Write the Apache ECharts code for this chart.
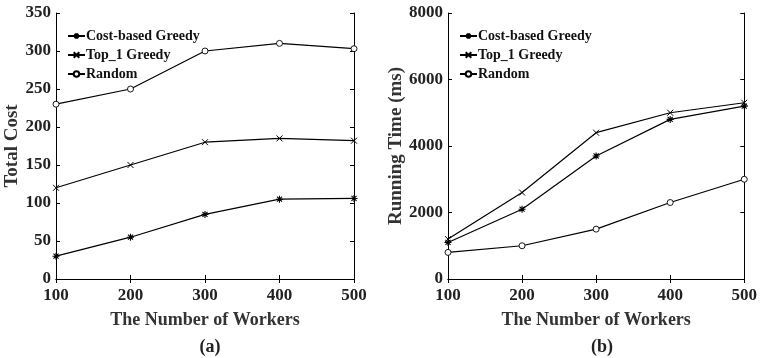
<!DOCTYPE html>
<html><head><meta charset="utf-8">
<script src="https://cdn.jsdelivr.net/npm/echarts@6/dist/echarts.min.js"></script>
<style>html,body{margin:0;padding:0;background:#fff}#c{width:760px;height:358px}</style>
</head><body><div id="c"></div>
<script>
var workers = [100, 200, 300, 400, 500];
var seriesNames = ['Cost-based Greedy', 'Top_1 Greedy', 'Random'];
var costGreedyA = [30, 55, 85, 105, 106];
var top1GreedyA = [120, 150, 180, 185, 182];
var randomA = [230, 250, 300, 310, 303];
var costGreedyB = [1100, 2100, 3700, 4800, 5200];
var top1GreedyB = [1200, 2600, 4400, 5000, 5300];
var randomB = [800, 1000, 1500, 2300, 3000];

var FONT = '"Liberation Serif","Times New Roman",serif';
var symAst = 'path://M0,-5L0,5M-5,0L5,0M-3.6,-3.6L3.6,3.6M-3.6,3.6L3.6,-3.6';
var symX = 'path://M-5,-5L5,5M-5,5L5,-5';
var symCirc = 'path://M5,0A5,5 0 1 1 -5,0A5,5 0 1 1 5,0Z';
var symbols = [symAst, symX, symCirc];
var sizes = [7, 6, 6];
var borders = [1.1, 1.0, 0.9];
var fills = ['#000', '#000', '#fff'];

function pairs(v){ return v.map(function(y,i){ return [workers[i], y]; }); }

var axLine = {show:true, lineStyle:{color:'#000', width:1}};
function xAx(gi, pos, labels){
  return {type:'value', gridIndex:gi, position:pos, min:100, max:500, interval:100,
    axisLine:axLine, axisTick:{show:true, inside:true, length:4, lineStyle:{color:'#000'}},
    axisLabel:{show:labels, color:'#222', fontFamily:FONT, fontWeight:'bold', fontSize:17, margin:8},
    splitLine:{show:false},
    name: labels ? 'The Number of Workers' : '', nameLocation:'middle', nameGap:32,
    nameTextStyle:{color:'#333', fontFamily:FONT, fontWeight:'bold', fontSize:18}};
}
function yAx(gi, pos, labels, max, interval, name){
  return {type:'value', gridIndex:gi, position:pos, min:0, max:max, interval:interval,
    axisLine:axLine, axisTick:{show:true, inside:true, length:4, lineStyle:{color:'#000'}},
    axisLabel:{show:labels, color:'#222', fontFamily:FONT, fontWeight:'bold', fontSize:17, margin:5,
      formatter:function(v){ return String(v); }},
    splitLine:{show:false},
    name: labels ? name : '', nameLocation:'middle', nameGap: max>1000 ? 42 : 28,
    nameTextStyle:{color:'#333', fontFamily:FONT, fontWeight:'bold', fontSize:19}};
}
function mkSeries(data, idx, xi, yi){
  return {name:seriesNames[idx], type:'line', xAxisIndex:xi, yAxisIndex:yi, data:pairs(data),
    symbol:symbols[idx], symbolSize:sizes[idx], showSymbol:true,
    lineStyle:{color:'#000', width:1.2},
    itemStyle:{color:fills[idx], borderColor:'#000', borderWidth:borders[idx]},
    emphasis:{disabled:true}, animation:false};
}
function legend(left){
  return {orient:'vertical', left:left, top:24, itemWidth:17, itemHeight:7, itemGap:5,
    data:seriesNames, textStyle:{color:'#111', fontFamily:FONT, fontWeight:'bold', fontSize:14, padding:[0,0,0,-4]}};
}

var chart = echarts.init(document.getElementById('c'), null, {renderer:'canvas'});
chart.setOption({
  backgroundColor:'#fff',
  animation:false,
  title:[
    {text:'(a)', left:205, top:333, textAlign:'center', textStyle:{fontFamily:FONT, fontWeight:'bold', fontSize:18, color:'#222'}},
    {text:'(b)', left:597, top:333, textAlign:'center', textStyle:{fontFamily:FONT, fontWeight:'bold', fontSize:18, color:'#222'}}
  ],
  legend:[legend(62), legend(454)],
  grid:[
    {left:56, right:406, top:13, bottom:79},
    {left:448, right:13, top:13, bottom:79}
  ],
  xAxis:[xAx(0,'bottom',true), xAx(0,'top',false), xAx(1,'bottom',true), xAx(1,'top',false)],
  yAxis:[yAx(0,'left',true,350,50,'Total Cost'), yAx(0,'right',false,350,50,''),
         yAx(1,'left',true,8000,2000,'Running Time (ms)'), yAx(1,'right',false,8000,2000,'')],
  series:[
    mkSeries(costGreedyA,0,0,0), mkSeries(top1GreedyA,1,0,0), mkSeries(randomA,2,0,0),
    mkSeries(costGreedyB,0,2,2), mkSeries(top1GreedyB,1,2,2), mkSeries(randomB,2,2,2)
  ]
});
</script></body></html>
